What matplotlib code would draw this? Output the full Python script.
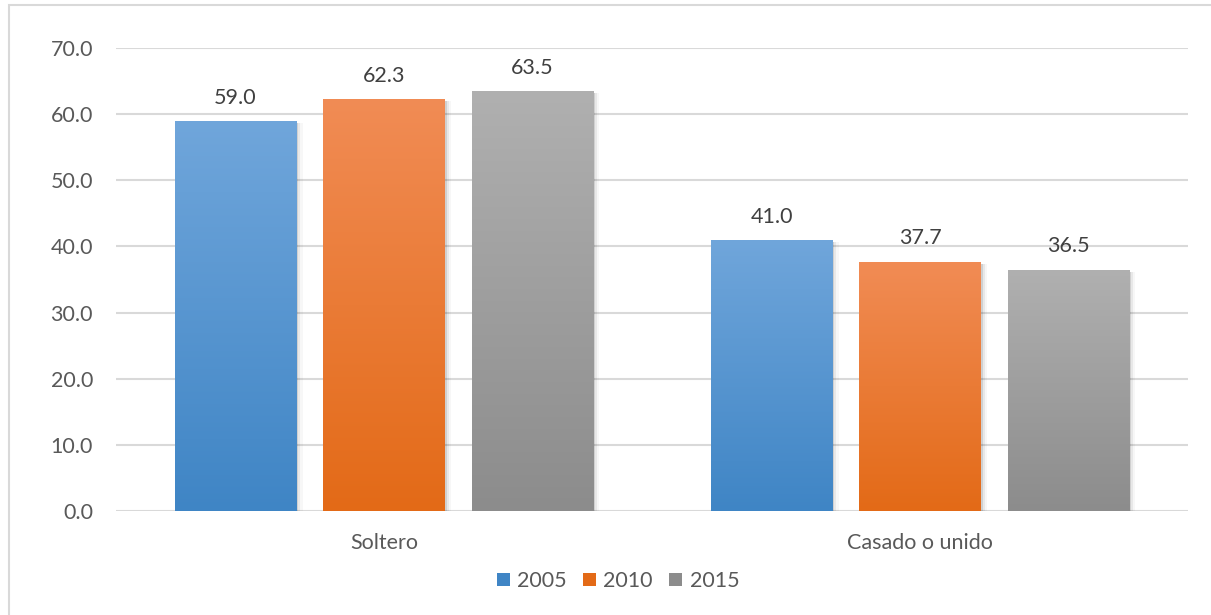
import numpy as np
import matplotlib.pyplot as plt
from matplotlib.colors import LinearSegmentedColormap
from matplotlib.patches import Rectangle, Patch

categories = ['Soltero', 'Casado o unido']
years = ['2005', '2010', '2015']
values = {
    '2005': [59.0, 41.0],
    '2010': [62.3, 37.7],
    '2015': [63.5, 36.5],
}
yticks = [0, 10, 20, 30, 40, 50, 60, 70]

# top colour, bottom colour of each bar gradient
grads = {
    '2005': ('#70a6db', '#3f85c5'),
    '2010': ('#f18c55', '#e36a17'),
    '2015': ('#b0b0b0', '#8c8c8c'),
}

plt.rcParams['font.family'] = ['Lato', 'DejaVu Sans']
txt = '#595959'
fs = 15.5

fig = plt.figure(figsize=(12.11, 6.15), dpi=100)
# chart border
fig.patches.append(Rectangle((9 / 1211, -0.1), 1.2, 1 - 5 / 615 + 0.1, transform=fig.transFigure,
                             fill=False, edgecolor='#d9d9d9', linewidth=1.5, zorder=0))

ax = fig.add_axes([116 / 1211, 1 - 511 / 615, (1188 - 116) / 1211, (511 - 48) / 615])
ax.set_xlim(-0.5, 1.5)
ax.set_ylim(0, 70)

width = 0.226
step = 0.277
x = np.arange(len(categories))
for i, yr in enumerate(years):
    cmap = LinearSegmentedColormap.from_list(yr, [grads[yr][1], grads[yr][0]])
    for xi, v in zip(x, values[yr]):
        left = xi + (i - 1) * step - width / 2
        # soft shadow to the right
        for k, a in enumerate([0.10, 0.06, 0.03]):
            ax.add_patch(Rectangle((left + width, 0), 0.004 * (k + 1), v - 0.3,
                                   facecolor='black', alpha=a, linewidth=0, zorder=2))
        bar = ax.bar(left, v, width, align='edge', color='none', zorder=3)[0]
        grad = np.linspace(0, 1, 256).reshape(-1, 1)
        im = ax.imshow(grad, cmap=cmap, origin='lower', aspect='auto',
                       extent=(left, left + width, 0, v), zorder=3)
        im.set_clip_path(bar)
        ax.text(xi + (i - 1) * step, v + 2.0, f'{v:.1f}', ha='center', va='bottom',
                fontsize=fs, color='#404040')

ax.set_yticks(yticks)
ax.set_yticklabels([f'{t:.1f}' for t in yticks])
ax.set_xticks(x)
ax.set_xticklabels(categories)
ax.tick_params(axis='both', length=0, labelsize=fs, colors=txt)
ax.tick_params(axis='y', pad=16.5)
ax.tick_params(axis='x', pad=16)
ax.grid(axis='y', color='#d9d9d9', linewidth=1.5, zorder=0)
ax.set_axisbelow(True)
for s in ax.spines.values():
    s.set_visible(False)

handles = [Patch(facecolor=grads[yr][1], edgecolor='none') for yr in years]
fig.legend(handles, years, loc='center', bbox_to_anchor=(618 / 1211, 1 - 581 / 615), ncol=3,
           frameon=False, fontsize=fs, labelcolor=txt, handlelength=0.6, handleheight=0.6,
           handletextpad=0.35, columnspacing=0.75)

fig.savefig('out.png', dpi=100)
